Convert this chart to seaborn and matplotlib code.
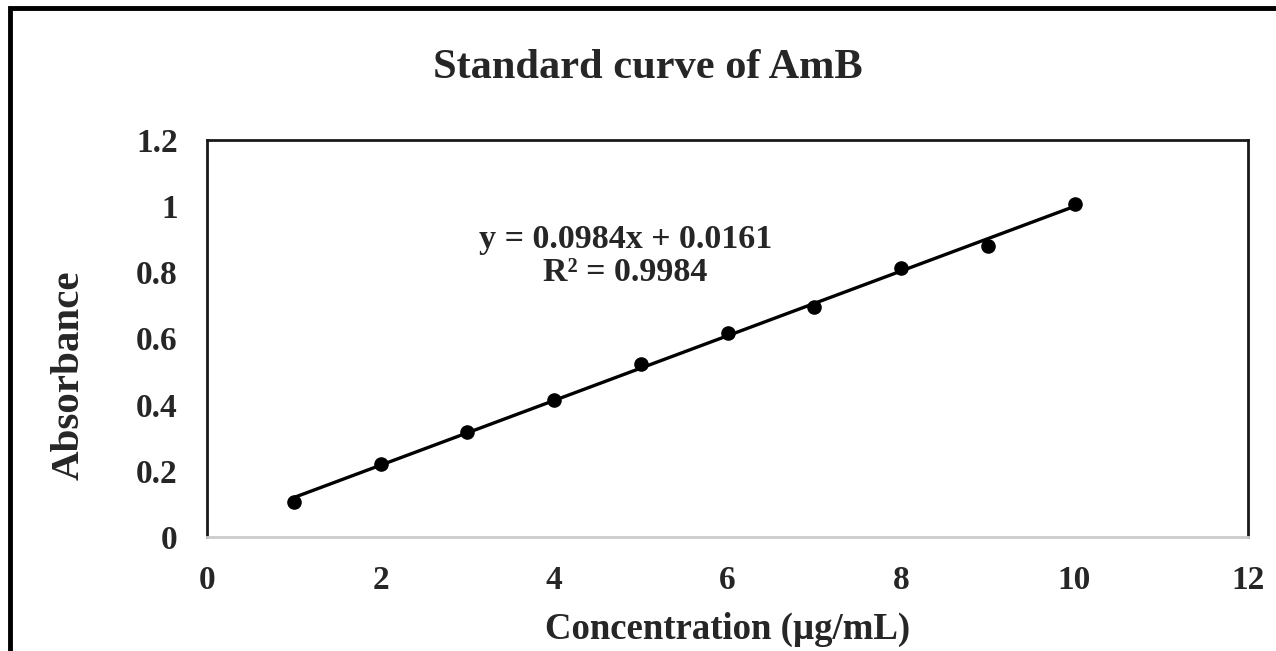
import numpy as np
import pandas as pd
import matplotlib
matplotlib.use('Agg')
import matplotlib.pyplot as plt
import seaborn as sns
from matplotlib.patches import Rectangle

concentration = [1, 2, 3, 4, 5, 6, 7, 8, 9, 10]
absorbance = [0.106, 0.221, 0.317, 0.414, 0.523, 0.617, 0.695, 0.813, 0.880, 1.007]
x_ticks = [0, 2, 4, 6, 8, 10, 12]
y_ticks = [0, 0.2, 0.4, 0.6, 0.8, 1, 1.2]
y_tick_labels = ['0', '0.2', '0.4', '0.6', '0.8', '1', '1.2']
equation = 'y = 0.0984x + 0.0161\nR² = 0.9984'

df = pd.DataFrame({'Concentration': concentration, 'Absorbance': absorbance})

sns.set_style('white')
plt.rcParams['font.family'] = ['Liberation Serif', 'DejaVu Serif']
plt.rcParams['font.weight'] = 'bold'

fig = plt.figure(figsize=(12.76, 6.51), dpi=100)
ax = fig.add_axes([207 / 1276, 1 - 537 / 651, (1248 - 207) / 1276, (537 - 140) / 651])

sns.regplot(data=df, x='Concentration', y='Absorbance', ax=ax, ci=None,
            color='black', truncate=True,
            scatter_kws={'s': 90, 'color': 'black', 'alpha': 1, 'zorder': 3},
            line_kws={'lw': 2.4, 'color': 'black'})

ax.set_xlim(0, 12)
ax.set_ylim(0, 1.2)
ax.set_xticks(x_ticks)
ax.set_xticklabels([str(t) for t in x_ticks])
ax.set_yticks(y_ticks)
ax.set_yticklabels(y_tick_labels)
ax.tick_params(axis='both', length=0, labelsize=24)
ax.tick_params(axis='x', pad=20)
ax.tick_params(axis='y', pad=21)
for lab in ax.get_xticklabels() + ax.get_yticklabels():
    lab.set_fontweight('bold')

ax.set_xlabel('Concentration (µg/mL)', fontsize=26.5, fontweight='bold')
ax.xaxis.set_label_coords(0.5005, -0.233)
ax.xaxis.label.set_va('center')
ax.set_ylabel('Absorbance', fontsize=29.5, fontweight='bold')
ax.yaxis.set_label_coords(-0.1326, 0.408)
ax.yaxis.label.set_va('center')

for side in ['left', 'top', 'right']:
    ax.spines[side].set_color('#1a1a1a')
    ax.spines[side].set_linewidth(2)
ax.spines['bottom'].set_color('#cccccc')
ax.spines['bottom'].set_linewidth(2)

ax.text(4.82, 0.848, equation, ha='center', va='center', fontsize=24.5,
        fontweight='bold', linespacing=1.08)

fig.text(648 / 1276, 1 - 68 / 651, 'Standard curve of AmB', ha='center',
         va='center', fontsize=30.5, fontweight='bold')

# outer frame (cropped at right and bottom)
fig.patches.append(Rectangle((10 / 1276, -0.1), 1.2, 1 - 8 / 651 + 0.1,
                             transform=fig.transFigure, fill=False,
                             edgecolor='black', lw=3.5))

fig.savefig('out.png', dpi=100)
